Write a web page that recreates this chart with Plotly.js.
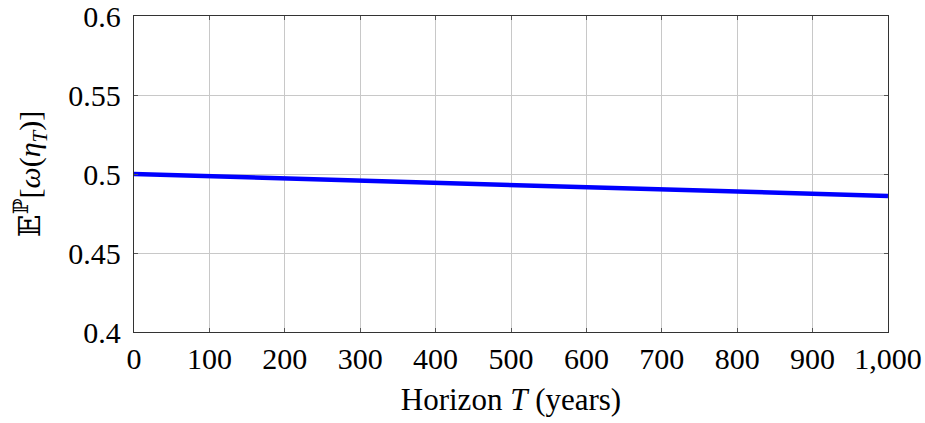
<!DOCTYPE html>
<html>
<head>
<meta charset="utf-8">
<script src="https://cdn.plot.ly/plotly-3.0.1.min.js"></script>
<style>html,body{margin:0;padding:0;background:#fff;}#chart{width:925px;height:423px;}</style>
</head>
<body>
<div id="chart"></div>
<script>
const horizon = [0, 100, 200, 300, 400, 500, 600, 700, 800, 900, 1000];
const expectedOmega = [0.5, 0.4986, 0.4972, 0.4958, 0.4944, 0.4930, 0.4917, 0.4903, 0.4889, 0.4875, 0.4861];
const xTickVals = [0, 100, 200, 300, 400, 500, 600, 700, 800, 900, 1000];
const xTickText = ["0", "100", "200", "300", "400", "500", "600", "700", "800", "900", "1,000"];
const yTickVals = [0.4, 0.45, 0.5, 0.55, 0.6];
const yTickText = ["0.4", "0.45", "0.5", "0.55", "0.6"];

const fontFam = "'Liberation Serif', 'DejaVu Serif', serif";

const trace = {
  x: horizon,
  y: expectedOmega,
  type: 'scatter',
  mode: 'lines',
  line: {color: '#0000ff', width: 4.5},
  hoverinfo: 'skip'
};

const layout = {
  width: 925,
  height: 423,
  margin: {l: 134, r: 37, t: 16, b: 91},
  paper_bgcolor: '#ffffff',
  plot_bgcolor: '#ffffff',
  showlegend: false,
  font: {family: fontFam, size: 30, color: '#000'},
  xaxis: {
    range: [0, 1000],
    tickvals: xTickVals,
    ticktext: xTickText,
    showgrid: true,
    gridcolor: '#c8c8c8',
    gridwidth: 1,
    zeroline: false,
    showline: true,
    linecolor: '#333',
    linewidth: 1.2,
    mirror: 'ticks',
    ticks: 'inside',
    ticklen: 4,
    tickcolor: '#555',
    ticklabeloverflow: 'allow',
    tickfont: {family: fontFam, size: 30, color: '#000'},
    title: {text: 'Horizon <i>T</i> (years)', font: {family: fontFam, size: 31, color: '#000'}, standoff: 14}
  },
  yaxis: {
    range: [0.4, 0.6],
    tickvals: yTickVals,
    ticktext: yTickText,
    showgrid: true,
    gridcolor: '#c8c8c8',
    gridwidth: 1,
    zeroline: false,
    showline: true,
    linecolor: '#333',
    linewidth: 1.2,
    mirror: 'ticks',
    ticks: 'inside',
    ticklen: 4,
    tickcolor: '#555',
    ticklabelstandoff: 6,
    ticklabeloverflow: 'allow',
    tickfont: {family: fontFam, size: 30, color: '#000'},
    title: {text: '𝔼<sup>ℙ</sup>[<i>ω</i>(<i>η</i><sub><i>T</i></sub>)]', font: {family: fontFam, size: 30, color: '#000'}, standoff: 18}
  }
};

Plotly.newPlot('chart', [trace], layout, {displayModeBar: false, staticPlot: true});
</script>
</body>
</html>
